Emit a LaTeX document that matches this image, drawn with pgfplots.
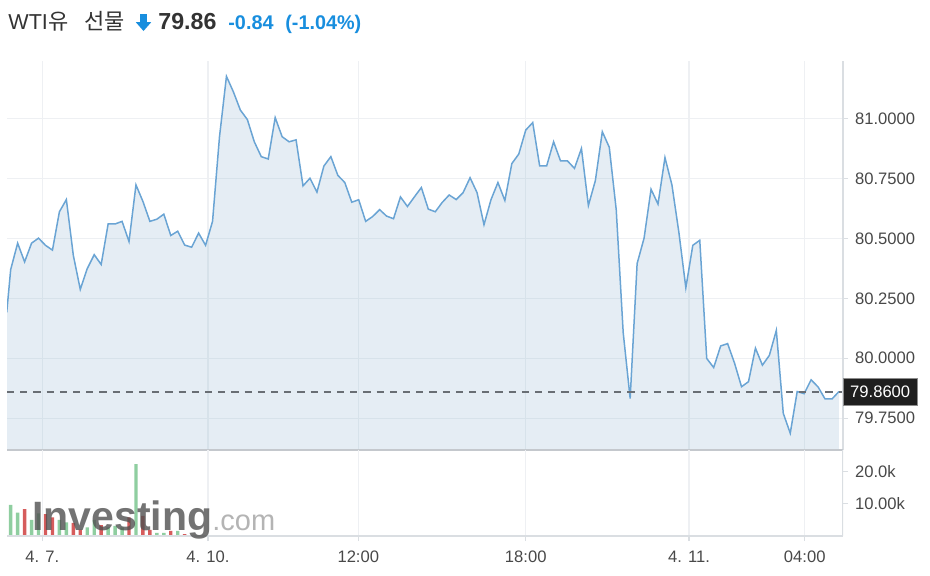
\documentclass[border=0pt]{standalone}
\usepackage{pgfplots}
\pgfplotsset{compat=1.18}
\usepgfplotslibrary{fillbetween}
\usepackage{pgfplotstable}
\usepackage{fontspec}
\setmainfont{Liberation Sans}
\newfontfamily\cjk{Noto Sans CJK KR}
\definecolor{titlegray}{RGB}{51,51,51}
\definecolor{bluetxt}{RGB}{24,142,222}
\definecolor{labelgray}{RGB}{72,72,72}
\definecolor{gridgray}{RGB}{238,240,243}
\definecolor{axislight}{RGB}{218,222,226}
\definecolor{sepgray}{RGB}{196,200,205}
\definecolor{linec}{RGB}{106,164,212}
\definecolor{fillc}{RGB}{150,185,210}
\definecolor{dashc}{RGB}{105,110,116}
\definecolor{upc}{RGB}{143,206,160}
\definecolor{downc}{RGB}{214,92,92}
\definecolor{wmgray}{RGB}{80,80,80}

\pgfplotstableread{
k v
-0.57 80.191
0 80.370
1 80.480
2 80.402
3 80.480
4 80.501
5 80.471
6 80.451
7 80.611
8 80.662
9 80.429
10 80.287
11 80.374
12 80.432
13 80.391
14 80.560
15 80.560
16 80.571
17 80.487
18 80.723
19 80.654
20 80.571
21 80.580
22 80.601
23 80.512
24 80.530
25 80.472
26 80.463
27 80.522
28 80.471
29 80.571
30 80.924
31 81.176
32 81.111
33 81.035
34 80.996
35 80.903
36 80.841
37 80.831
38 81.004
39 80.924
40 80.903
41 80.911
42 80.719
43 80.751
44 80.693
45 80.802
46 80.841
47 80.763
48 80.733
49 80.651
50 80.661
51 80.571
52 80.591
53 80.620
54 80.593
55 80.582
56 80.673
57 80.633
58 80.673
59 80.712
60 80.622
61 80.611
62 80.650
63 80.681
64 80.662
65 80.691
66 80.753
67 80.691
68 80.557
69 80.661
70 80.733
71 80.658
72 80.812
73 80.852
74 80.952
75 80.983
76 80.802
77 80.802
78 80.903
79 80.823
80 80.823
81 80.792
82 80.875
83 80.637
84 80.741
85 80.945
86 80.880
87 80.619
88 80.107
89 79.832
90 80.395
91 80.501
92 80.705
93 80.643
94 80.837
95 80.723
96 80.525
97 80.294
98 80.471
99 80.492
100 79.999
101 79.961
102 80.051
103 80.061
104 79.979
105 79.881
106 79.902
107 80.042
108 79.971
109 80.012
110 80.116
111 79.770
112 79.687
113 79.861
114 79.852
115 79.910
116 79.880
117 79.830
118 79.830
119 79.861
}\pricedata

\pgfplotstableread{
k vol
0 9600
1 7200
3 5000
4 7000
7 5000
8 4200
11 2700
12 5000
14 2700
15 3100
16 2700
18 22200
21 1000
22 1000
24 1600
27 300
}\volup

\pgfplotstableread{
k vol
2 8300
5 6800
6 5800
9 4100
10 2000
13 3400
17 5800
19 6200
20 1900
23 1600
25 600
26 300
28 300
}\voldown

\begin{document}
\begin{tikzpicture}

% title
\node[anchor=base west, inner sep=0pt, text=titlegray, font=\fontsize{10.8}{12}\selectfont] at (4pt,272.9pt) {WTI};
\node[anchor=base west, inner sep=0pt, text=titlegray, font=\fontsize{11}{12}\selectfont\cjk] at (23.8pt,272.9pt) {유};
\node[anchor=base west, inner sep=0pt, text=titlegray, font=\fontsize{11}{12}\selectfont\cjk] at (41.8pt,272.9pt) {선물};
\fill[bluetxt] (70.1pt,280.5pt) -- (73.4pt,280.5pt) -- (73.4pt,276.4pt) -- (75.6pt,276.4pt) -- (71.75pt,272pt) -- (67.9pt,276.4pt) -- (70.1pt,276.4pt) -- cycle;
\node[anchor=base west, inner sep=0pt, text=titlegray, font=\fontsize{11.6}{13}\selectfont\bfseries] at (79pt,272.9pt) {79.86};
\node[anchor=base west, inner sep=0pt, text=bluetxt, font=\fontsize{9.9}{12}\selectfont\bfseries] at (114pt,272.9pt) {-0.84};
\node[anchor=base west, inner sep=0pt, text=bluetxt, font=\fontsize{9.9}{12}\selectfont\bfseries] at (142.5pt,272.9pt) {(-1.04\%)};

% price panel
\begin{axis}[
  at={(3.5pt,62.5pt)}, anchor=south west, scale only axis,
  width=418pt, height=194.5pt,
  xmin=-0.53, xmax=119.58, ymin=79.617, ymax=81.24,
  axis line style={draw=none},
  xtick={4.54,28.35,49.94,74.0,97.46,114.08}, xticklabels={},
  xtick style={draw=none},
  ytick={79.75,80,80.25,80.5,80.75,81},
  yticklabels={79.7500,80.0000,80.2500,80.5000,80.7500,81.0000},
  ytick pos=right, yticklabel pos=right,
  tick align=outside, major tick length=2.5pt,
  ytick style={draw=axislight, line width=0.6pt},
  yticklabel style={anchor=west, font=\fontsize{8.3}{10}\selectfont, text=labelgray},
  grid=major, major grid style={draw=gridgray, line width=0.6pt},
  clip mode=individual,
]
\addplot[name path=price, draw=none, forget plot] table[x=k,y=v]{\pricedata};
\addplot[name path=base, draw=none, forget plot] coordinates {(-0.57,79.5) (119,79.5)};
\addplot[fill=fillc, fill opacity=0.25, draw=none] fill between[of=price and base];
\addplot[linec, line width=0.75pt] table[x=k,y=v]{\pricedata};
\addplot[dashc, line width=0.9pt, dash pattern=on 3.6pt off 3pt] coordinates {(-0.53,79.86) (119.58,79.86)};
\draw[axislight, line width=0.6pt] (rel axis cs:1,0) -- (rel axis cs:1,1);
\draw[sepgray, line width=0.8pt] (rel axis cs:0,0) -- (rel axis cs:1,0);
\node[anchor=west, fill=black!88, draw=black!45, line width=0.4pt, text=white, inner xsep=3.4pt, minimum height=13.2pt, font=\fontsize{8.3}{10}\selectfont] at (axis cs:119.58,79.86) {79.8600};
\end{axis}

% volume panel
\begin{axis}[
  at={(3.5pt,19.5pt)}, anchor=south west, scale only axis,
  width=418pt, height=43pt,
  xmin=-0.53, xmax=119.58, ymin=0, ymax=26600,
  axis line style={draw=none},
  xtick={4.54,28.35,49.94,74.0,97.46,114.08},
  xticklabels={4. 7., 4. 10., 12:00, 18:00, 4. 11., 04:00},
  xtick pos=bottom,
  ytick={10000,20000}, yticklabels={10.00k,20.0k}, scaled y ticks=false,
  ytick pos=right, yticklabel pos=right,
  tick align=outside, major tick length=2.5pt,
  tick style={draw=axislight, line width=0.6pt},
  yticklabel style={anchor=west, font=\fontsize{8.3}{10}\selectfont, text=labelgray},
  xticklabel style={font=\fontsize{8.3}{10}\selectfont, text=labelgray, yshift=-1.3pt},
  xmajorgrids, major grid style={draw=gridgray, line width=0.6pt},
]
\addplot[ybar, bar width=1.7pt, bar shift=0pt, fill=upc, draw=none] table[x=k,y=vol]{\volup};
\addplot[ybar, bar width=1.7pt, bar shift=0pt, fill=downc, draw=none] table[x=k,y=vol]{\voldown};
\draw[axislight, line width=0.6pt] (rel axis cs:0,0) -- (rel axis cs:1,0);
\draw[axislight, line width=0.6pt] (rel axis cs:1,0) -- (rel axis cs:1,1);
\end{axis}

% watermark
\node[anchor=base west, inner sep=0pt, text=wmgray, opacity=0.8, font=\fontsize{20.5}{22}\selectfont\bfseries] at (16pt,22.5pt) {Investing};
\node[anchor=base west, inner sep=0pt, text=black!45, opacity=0.65, font=\fontsize{14.5}{16}\selectfont] at (106pt,22.5pt) {.com};
\path (0pt,0pt) rectangle (465pt,287.5pt);
\end{tikzpicture}
\end{document}
